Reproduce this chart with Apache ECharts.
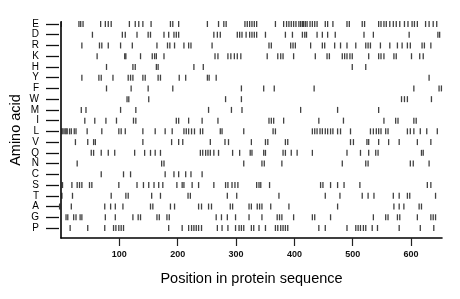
<!DOCTYPE html>
<html>
<head>
<meta charset="utf-8">
<script src="https://cdn.jsdelivr.net/npm/echarts@6/dist/echarts.min.js"></script>
<style>html,body{margin:0;padding:0;background:#fff}#c{width:460px;height:299px}</style>
</head>
<body>
<div id="c"></div>
<script>
// Amino acid rows, top to bottom
const aminoAcids = ['E','D','R','K','H','Y','F','W','M','I','L','V','Q','N','C','S','T','A','G','P'];
const xTicks = [100, 200, 300, 400, 500, 600];
const seqLength = 653;

const posE = [4,34,37,41,71,79,84,89,120,130,136,143,157,190,194,204,253,272,281,285,317,321,325,329,333,337,369,383,388,392,396,400,404,409,412,415,417,420,423,428,432,436,440,454,458,467,491,495,517,521,545,549,554,558,564,570,575,581,589,595,602,606,611,625,631,638,644];
const posD = [57,108,113,133,152,156,179,187,196,200,204,264,270,275,304,308,312,319,325,329,333,337,352,386,398,415,419,422,440,449,458,471,520,536,597,646,649];
const posR = [39,69,73,84,105,125,167,185,189,197,213,221,225,261,358,362,395,399,403,429,449,453,470,480,491,506,523,527,531,548,564,577,585,594,599,619,623,634];
const posK = [65,112,114,139,159,163,166,179,266,271,288,293,299,304,310,355,373,378,382,400,437,457,461,483,487,491,496,500,528,545,549,554,571,575,601,615,621];
const posH = [81,126,130,166,169,230,246,500,523];
const posY = [39,68,72,92,118,122,126,143,147,169,173,205,216,253,256,268,631];
const posF = [81,123,152,194,311,349,367,435,605,648,652];
const posW = [116,119,153,284,311,584,589,594,635];
const posM = [38,46,105,131,255,294,312,412,475,545];
const posI = [44,61,80,98,127,131,200,204,221,244,271,358,362,366,383,443,485,554,574,578,605,609];
const posL = [5,7,10,12,14,18,21,26,29,48,73,102,106,113,143,164,181,193,213,217,221,226,231,241,245,275,278,315,365,369,432,436,440,445,449,454,458,463,467,475,480,497,531,536,541,545,549,557,561,594,599,605,616,627,645];
const posV = [28,49,59,62,143,192,204,211,258,283,289,328,352,356,386,390,497,502,525,528,545,562,580,611,634];
const posQ = [55,59,72,84,95,129,146,156,164,173,241,245,250,254,258,264,272,296,308,326,329,349,352,382,386,396,406,432,491,514,528,540,544,618,621];
const posN = [31,175,179,315,346,350,380,483,523,527,599,604,631];
const posC = [72,110,122,181,196,204,216,225,244];
const posS = [6,22,31,35,39,52,56,102,133,144,153,162,170,177,201,210,213,227,238,264,284,288,295,300,305,337,341,344,359,446,450,463,475,486,513,628,634];
const posT = [5,23,89,114,118,158,173,220,224,287,303,375,454,479,517,527,537,570,580,594,598,642];
const posA = [1,21,78,88,96,109,156,160,190,197,238,243,255,260,292,296,324,328,338,342,346,361,392,475,571,580,588,614,618];
const posG = [12,15,25,29,36,39,79,96,126,135,139,167,171,184,188,268,277,287,301,324,346,372,376,380,400,432,436,463,536,557,561,577,581,611,634,638,642];
const posP = [19,49,78,93,97,102,106,110,187,210,221,226,230,234,238,243,270,278,288,301,307,311,315,328,332,341,352,369,373,378,382,386,390,443,454,491,506,510,514,519,523,534,543,580,616,639];

const rows = {E:posE,D:posD,R:posR,K:posK,H:posH,Y:posY,F:posF,W:posW,M:posM,I:posI,L:posL,V:posV,Q:posQ,N:posN,C:posC,S:posS,T:posT,A:posA,G:posG,P:posP};
const marks = [];
aminoAcids.forEach(a => rows[a].forEach(p => marks.push([p, a])));

const chart = echarts.init(document.getElementById('c'), null, {renderer: 'canvas'});
const font = 'Liberation Sans, Arial, sans-serif';
chart.setOption({
  animation: false,
  backgroundColor: '#fff',
  grid: [
    {left: 59, right: 18, top: 22, bottom: 61},
    {left: 59, right: 18, top: 24, bottom: 71}
  ],
  xAxis: [
    {
      gridIndex: 0, type: 'value', min: 0, max: seqLength, interval: 100,
      name: 'Position in protein sequence', nameLocation: 'middle', nameGap: 33,
      nameTextStyle: {fontFamily: font, fontSize: 14.5, color: '#000'},
      axisLine: {show: true, lineStyle: {color: '#000', width: 1.6}},
      axisTick: {show: true, length: 8, customValues: xTicks, lineStyle: {color: '#222', width: 1.2}},
      axisLabel: {show: true, customValues: xTicks, margin: 12, fontFamily: font, fontSize: 9, fontWeight: 'bold', color: '#111'},
      splitLine: {show: false}
    },
    {
      gridIndex: 1, type: 'value', min: 0, max: seqLength, show: false
    }
  ],
  yAxis: [
    {
      gridIndex: 0, type: 'value', min: 0, max: 1,
      name: 'Amino acid', nameLocation: 'middle', nameGap: 38, nameRotate: 90,
      nameTextStyle: {fontFamily: font, fontSize: 14.5, color: '#000'},
      axisLine: {show: true, lineStyle: {color: '#000', width: 1.6}},
      axisTick: {show: false}, axisLabel: {show: false}, splitLine: {show: false}
    },
    {
      gridIndex: 1, type: 'category', data: aminoAcids, inverse: true, boundaryGap: false,
      axisLine: {show: false},
      axisTick: {show: true, inside: false, length: 13, lineStyle: {color: '#111', width: 1.3}},
      axisLabel: {show: true, margin: 20, fontFamily: font, fontSize: 10, color: '#000', interval: 0},
      splitLine: {show: false}
    }
  ],
  series: [{
    type: 'scatter', xAxisIndex: 1, yAxisIndex: 1,
    symbol: 'rect', symbolSize: [1.3, 6],
    itemStyle: {color: '#111'},
    data: marks, silent: true
  }]
});
</script>
</body>
</html>
